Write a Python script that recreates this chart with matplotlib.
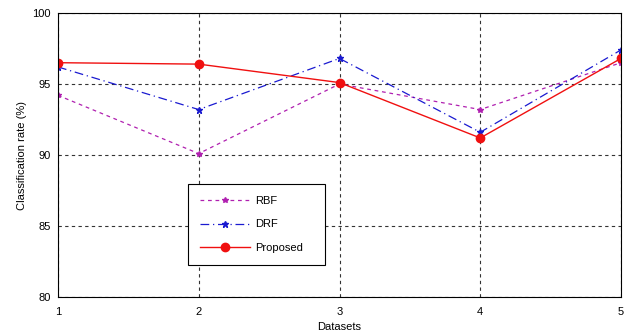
import matplotlib
matplotlib.use("Agg")
import matplotlib.pyplot as plt

datasets = [1, 2, 3, 4, 5]
rbf = [94.2, 90.1, 95.0, 93.2, 96.5]
drf = [96.2, 93.2, 96.8, 91.6, 97.4]
proposed = [96.5, 96.4, 95.1, 91.2, 96.8]

plt.rcParams['font.family'] = ['Liberation Sans', 'DejaVu Sans']

fig = plt.figure(figsize=(6.28, 3.32), dpi=100)
ax = fig.add_axes([58/628, 1 - 297/332, (621 - 58)/628, (297 - 13)/332])

ax.plot(datasets, rbf, color="#b020b0", linestyle=(0, (3, 3)), linewidth=0.9,
        marker="*", markersize=4, label="RBF")
ax.plot(datasets, drf, color="#1a1ad0", linestyle=(0, (7, 3, 1, 3)), linewidth=0.9,
        marker="*", markersize=5, label="DRF")
ax.plot(datasets, proposed, color="#f01010", linestyle="-", linewidth=1.0,
        marker="o", markersize=6, label="Proposed")

ax.set_xlim(1, 5)
ax.set_ylim(80, 100)
ax.set_xticks(datasets)
ax.set_yticks([80, 85, 90, 95, 100])
ax.grid(True, color="#333333", linestyle=(0, (3, 3)), linewidth=0.8)
ax.tick_params(axis="x", labelsize=8, length=0, pad=7)
ax.tick_params(axis="y", labelsize=8, length=0, pad=5)
ax.set_xlabel("Datasets", fontsize=8, labelpad=4)
ax.set_ylabel("Classification rate (%)", fontsize=8)

leg = ax.legend(loc="lower left", bbox_to_anchor=(130/563, 32/284, 137/563, 79/284),
                mode="expand", fontsize=8, fancybox=False, framealpha=1,
                edgecolor="black", borderaxespad=0, borderpad=1.1, labelspacing=1.2,
                handlelength=4.5, handletextpad=0.4)
leg.get_frame().set_linewidth(0.8)

fig.savefig("out.png", dpi=100)
